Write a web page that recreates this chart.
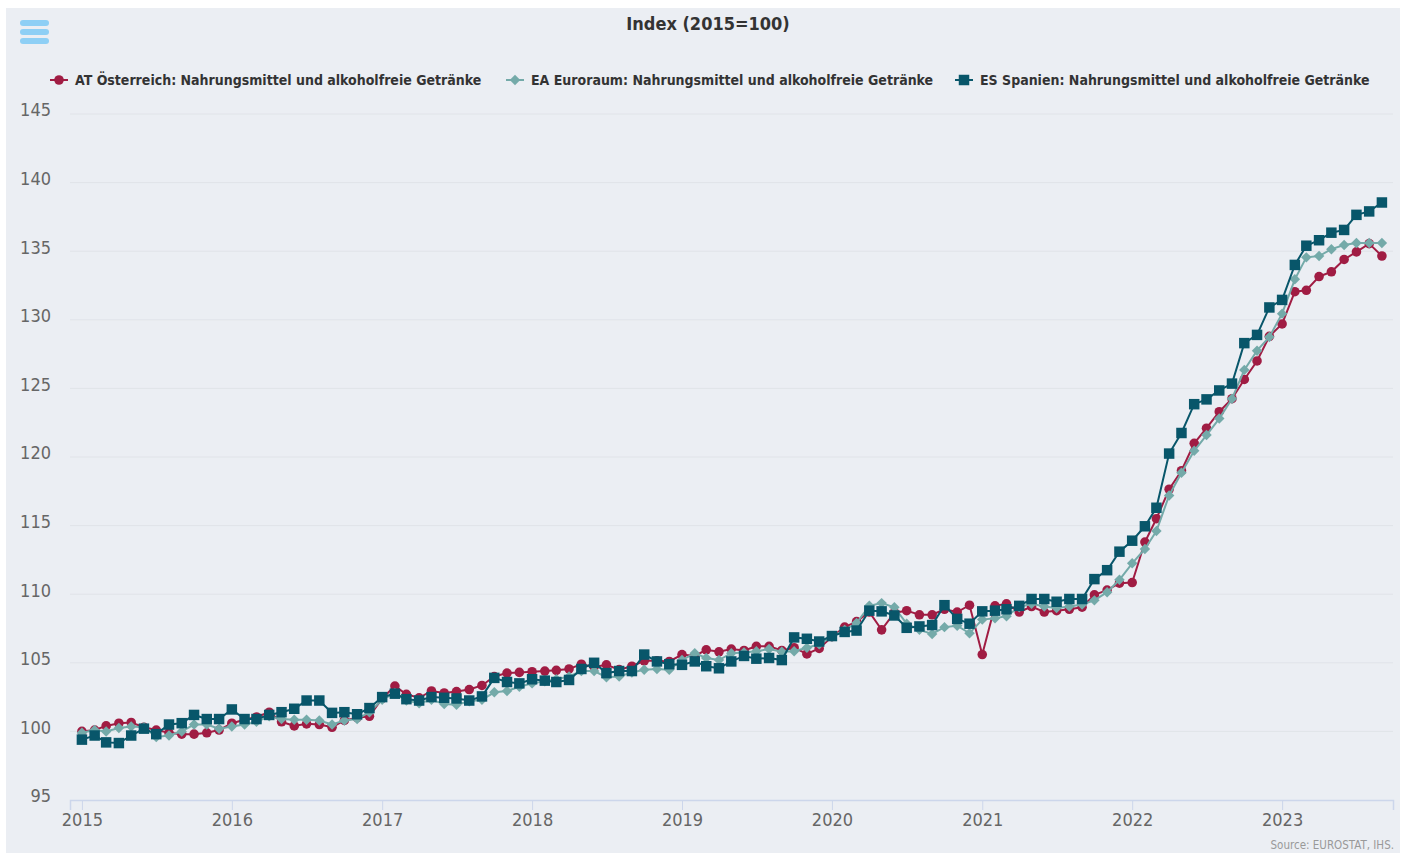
<!DOCTYPE html>
<html>
<head>
<meta charset="utf-8">
<script src="https://cdn.jsdelivr.net/npm/d3@7"></script>
<style>
  body { margin: 0; background: #fff; }
  svg { display: block; }
  text { font-family: "DejaVu Sans Condensed", "DejaVu Sans", sans-serif; }
</style>
</head>
<body>
<div id="chart"></div>
<script>
// monthly index values, Jan 2015 .. Sep 2023 (2015 = 100)
const months = d3.timeMonth.range(new Date(2015, 0, 1), new Date(2023, 9, 1));

const atValues = [
  100.0, 100.1, 100.4, 100.6, 100.65, 100.3, 100.1, 99.9, 99.8, 99.8, 99.9, 100.1,
  100.6, 100.85, 101.05, 101.4, 100.7, 100.4, 100.55, 100.5, 100.3, 100.8, 101.0, 101.1,
  102.4, 103.3, 102.7, 102.45, 102.95, 102.8, 102.9, 103.05, 103.35, 104.0, 104.25, 104.3,
  104.35, 104.4, 104.45, 104.55, 104.9, 104.7, 104.85, 104.5, 104.75, 105.15, 105.15, 105.1,
  105.6, 105.5, 105.95, 105.8, 106.0, 105.9, 106.2, 106.2, 105.9, 106.1, 105.65, 106.05,
  106.9, 107.6, 108.0, 108.7, 107.4, 108.65, 108.8, 108.5, 108.5, 108.9, 108.7, 109.2,
  105.6, 109.15, 109.3, 108.7, 109.1, 108.7, 108.8, 108.9, 109.05, 109.95, 110.3, 110.8,
  110.85, 113.8, 115.5, 117.65, 119.0, 121.0, 122.1, 123.3, 124.25, 125.65, 127.0, 128.8,
  129.7, 132.05, 132.15, 133.15, 133.5, 134.4, 134.95, 135.55, 134.65
];

const eaValues = [
  99.9, 100.1, 100.0, 100.25, 100.35, 100.3, 99.6, 99.7, 100.0, 100.5, 100.5, 100.2,
  100.35, 100.5, 100.7, 101.1, 100.9, 100.85, 100.85, 100.8, 100.5, 100.8, 100.9, 101.4,
  102.3, 102.8, 102.25, 102.05, 102.3, 102.0, 101.95, 102.2, 102.3, 102.85, 102.95, 103.25,
  103.5, 103.65, 103.8, 104.0, 104.4, 104.4, 103.95, 104.0, 104.3, 104.5, 104.55, 104.5,
  105.2, 105.7, 105.35, 105.2, 105.7, 105.75, 105.85, 106.0, 105.8, 105.85, 106.1, 106.35,
  106.9, 107.4, 107.9, 109.15, 109.35, 109.05, 107.85, 107.4, 107.1, 107.6, 107.7, 107.15,
  108.15, 108.25, 108.4, 109.05, 109.3, 109.1, 109.0, 109.1, 109.25, 109.55, 110.15, 111.05,
  112.25, 113.3, 114.6, 117.2, 118.85, 120.45, 121.6, 122.8, 124.25, 126.35, 127.75, 128.75,
  130.45, 132.95, 134.55, 134.65, 135.15, 135.45, 135.6, 135.6, 135.6
];

const esValues = [
  99.4, 99.7, 99.2, 99.15, 99.7, 100.2, 99.8, 100.5, 100.6, 101.2, 100.9, 100.9,
  101.6, 100.9, 100.9, 101.2, 101.4, 101.65, 102.25, 102.25, 101.35, 101.4, 101.25, 101.7,
  102.5, 102.75, 102.35, 102.25, 102.5, 102.45, 102.4, 102.25, 102.55, 103.9, 103.6, 103.5,
  103.8, 103.7, 103.6, 103.75, 104.55, 105.0, 104.25, 104.4, 104.4, 105.6, 105.1, 104.9,
  104.85, 105.1, 104.75, 104.6, 105.1, 105.5, 105.3, 105.35, 105.2, 106.85, 106.75, 106.55,
  106.95, 107.25, 107.35, 108.8, 108.75, 108.45, 107.55, 107.65, 107.75, 109.2, 108.2, 107.85,
  108.75, 108.8, 108.9, 109.15, 109.65, 109.65, 109.45, 109.65, 109.65, 111.1, 111.75, 113.1,
  113.9, 114.95, 116.3, 120.25, 121.75, 123.85, 124.2, 124.85, 125.35, 128.3, 128.9, 130.9,
  131.45, 134.0, 135.4, 135.8, 136.35, 136.55, 137.65, 137.9, 138.55
];

const seriesNames = [
  "AT Österreich: Nahrungsmittel und alkoholfreie Getränke",
  "EA Euroraum: Nahrungsmittel und alkoholfreie Getränke",
  "ES Spanien: Nahrungsmittel und alkoholfreie Getränke"
];
const seriesColors = ["#a01c43", "#74aaa9", "#08566a"];
const seriesSymbols = [d3.symbolCircle, d3.symbolDiamond2, d3.symbolSquare];
const yTicks = [95, 100, 105, 110, 115, 120, 125, 130, 135, 140, 145];
const xTicks = d3.range(2015, 2024).map((yr) => new Date(yr, 0, 1));

const config = {
  width: 1402,
  height: 855,
  plot: { left: 70, right: 1393, top: 114, bottom: 800 },
};

const series = [atValues, eaValues, esValues].map((vals, i) => ({
  name: seriesNames[i],
  color: seriesColors[i],
  symbol: seriesSymbols[i],
  values: vals.map((v, j) => ({ date: months[j], value: v })),
}));

const svg = d3
  .select("#chart")
  .append("svg")
  .attr("width", config.width)
  .attr("height", config.height);

// chart background panel
svg
  .append("rect")
  .attr("x", 6)
  .attr("y", 8)
  .attr("width", 1394)
  .attr("height", 845)
  .attr("fill", "#ebeef3");

const x = d3
  .scaleTime()
  .domain([new Date(2014, 11, 3), new Date(2023, 8, 28)])
  .range([config.plot.left, config.plot.right]);

const y = d3
  .scaleLinear()
  .domain([95, 145])
  .range([config.plot.bottom, config.plot.top]);

// grid lines
svg
  .append("g")
  .selectAll("line")
  .data(yTicks.slice(1))
  .join("line")
  .attr("x1", config.plot.left)
  .attr("x2", config.plot.right)
  .attr("y1", (d) => y(d))
  .attr("y2", (d) => y(d))
  .attr("stroke", "#e0e3e8")
  .attr("stroke-width", 1);

// y axis labels
svg
  .append("g")
  .selectAll("text")
  .data(yTicks)
  .join("text")
  .attr("x", 51)
  .attr("y", (d) => y(d) - 4)
  .attr("dy", "0.35em")
  .attr("text-anchor", "end")
  .attr("fill", "#666")
  .style("font-size", "18px")
  .text((d) => d);

// x axis
const xAxis = svg
  .append("g")
  .attr("transform", `translate(0,${config.plot.bottom})`)
  .call(
    d3
      .axisBottom(x)
      .tickValues(xTicks)
      .tickFormat(d3.timeFormat("%Y"))
      .tickSize(10)
      .tickPadding(3)
  );
xAxis.select(".domain").attr("stroke", "#ccd6eb").attr("stroke-width", 1.5);
xAxis.selectAll(".tick line").attr("stroke", "#ccd6eb");
xAxis
  .selectAll(".tick text")
  .attr("fill", "#666")
  .style("font-size", "18px")
  .style("font-family", '"DejaVu Sans Condensed", sans-serif');

// lines + markers
const line = d3
  .line()
  .x((d) => x(d.date))
  .y((d) => y(d.value));

const markerSize = [72, 70, 110];

series.forEach((s, i) => {
  const g = svg.append("g");
  g.append("path")
    .datum(s.values)
    .attr("d", line)
    .attr("fill", "none")
    .attr("stroke", s.color)
    .attr("stroke-width", 2);
  g.selectAll("path.marker")
    .data(s.values)
    .join("path")
    .attr("class", "marker")
    .attr("transform", (d) => `translate(${x(d.date)},${y(d.value)})`)
    .attr("d", d3.symbol().type(s.symbol).size(markerSize[i]))
    .attr("fill", s.color);
});

// title
svg
  .append("text")
  .attr("x", 708)
  .attr("y", 24)
  .attr("dy", "0.35em")
  .attr("text-anchor", "middle")
  .attr("fill", "#333")
  .style("font-size", "18px")
  .style("font-weight", "bold")
  .text("Index (2015=100)");

// legend
const legendX = [50, 506, 955];
const legend = svg
  .append("g")
  .selectAll("g")
  .data(series)
  .join("g")
  .attr("transform", (d, i) => `translate(${legendX[i]},80)`);

legend
  .append("line")
  .attr("x1", 0)
  .attr("x2", 18)
  .attr("stroke", (d) => d.color)
  .attr("stroke-width", 2);

legend
  .append("path")
  .attr("transform", "translate(9,0)")
  .attr("d", (d, i) => d3.symbol().type(d.symbol).size(markerSize[i])())
  .attr("fill", (d) => d.color);

legend
  .append("text")
  .attr("x", 25)
  .attr("dy", "0.35em")
  .attr("fill", "#333")
  .style("font-size", "14px")
  .style("font-weight", "bold")
  .text((d) => d.name);

// hamburger menu icon
svg
  .append("g")
  .selectAll("rect")
  .data([20, 29, 38])
  .join("rect")
  .attr("x", 20)
  .attr("y", (d) => d)
  .attr("width", 29)
  .attr("height", 6)
  .attr("rx", 3)
  .attr("fill", "#8ecff5");

// credits
svg
  .append("text")
  .attr("x", 1394)
  .attr("y", 845)
  .attr("dy", "0.35em")
  .attr("text-anchor", "end")
  .attr("fill", "#999")
  .style("font-size", "11.5px")
  .text("Source: EUROSTAT, IHS.");
</script>
</body>
</html>
